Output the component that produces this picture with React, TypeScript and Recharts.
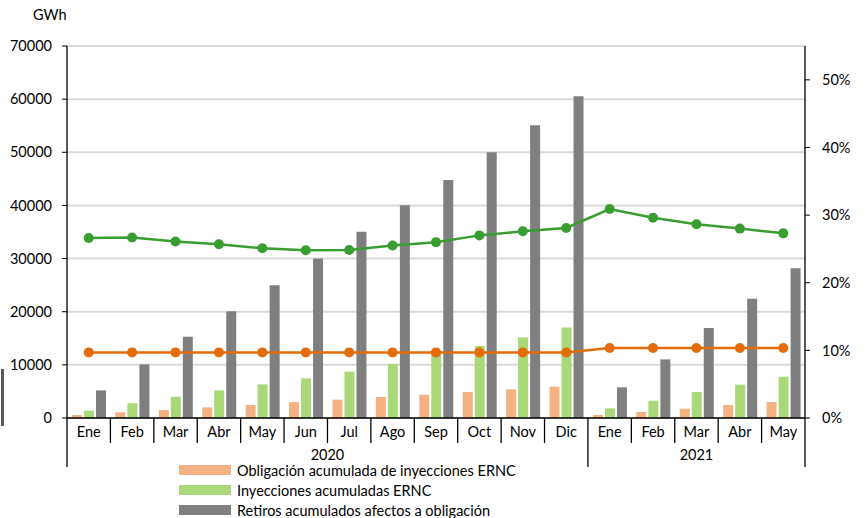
import React from 'react';
import { ComposedChart, Bar, Line, XAxis, YAxis, CartesianGrid } from 'recharts';

// Meses (dos años) y año de cada mes
const months = ['Ene', 'Feb', 'Mar', 'Abr', 'May', 'Jun', 'Jul', 'Ago', 'Sep', 'Oct', 'Nov', 'Dic', 'Ene', 'Feb', 'Mar', 'Abr', 'May'];
const years = ['2020', '2020', '2020', '2020', '2020', '2020', '2020', '2020', '2020', '2020', '2020', '2020', '2021', '2021', '2021', '2021', '2021'];

// GWh acumulados
const obligacion = [560, 1070, 1500, 2000, 2440, 3000, 3450, 3950, 4390, 4890, 5390, 5890, 560, 1130, 1750, 2440, 3000];
const inyecciones = [1380, 2760, 4010, 5200, 6330, 7460, 8710, 10150, 12300, 13540, 15170, 17050, 1820, 3260, 4890, 6270, 7770];
const retiros = [5200, 10100, 15290, 20100, 25000, 30000, 35030, 40040, 44800, 50000, 55100, 60540, 5770, 11030, 16920, 22430, 28200];

// % sobre retiros (eje derecho)
const pctInyecciones = [26.6, 26.7, 26.1, 25.7, 25.1, 24.8, 24.85, 25.5, 26.0, 27.0, 27.6, 28.1, 30.9, 29.6, 28.65, 28.0, 27.3];
const pctObligacion = [9.7, 9.7, 9.7, 9.7, 9.7, 9.7, 9.7, 9.7, 9.7, 9.7, 9.7, 9.7, 10.35, 10.35, 10.35, 10.35, 10.35];

const leftTicks = [0, 10000, 20000, 30000, 40000, 50000, 60000, 70000];
const rightTicks = [0, 10, 20, 30, 40, 50];

const legendItems = [
  { label: 'Obligación acumulada de inyecciones ERNC', color: '#F4B183' },
  { label: 'Inyecciones acumuladas ERNC', color: '#A9D879' },
  { label: 'Retiros acumulados afectos a obligación', color: '#7F7F7F' },
];

const data = months.map((m, i) => ({
  mes: m,
  anio: years[i],
  obligacion: obligacion[i],
  inyecciones: inyecciones[i],
  retiros: retiros[i],
  pctInyecciones: pctInyecciones[i],
  pctObligacion: pctObligacion[i],
}));

const W = 867;
const H = 518;
const PLOT_LEFT = 67;
const PLOT_RIGHT = 805;
const PLOT_TOP = 46;
const PLOT_BOTTOM = 418;
const BAND = (PLOT_RIGHT - PLOT_LEFT) / months.length;
const FONT = 'Lato, "Open Sans", sans-serif';
const FS = 14.5;

// grupos por año para centrar la etiqueta del año
const yearGroups = Array.from(new Set(years)).map((y) => ({
  year: y,
  first: years.indexOf(y),
  last: years.lastIndexOf(y),
}));

const MonthTick = (props: any) => {
  const { x, payload } = props;
  const i: number = props.index ?? payload.index;
  const left = x - BAND / 2;
  const right = x + BAND / 2;
  const yearStart = i === 0 || years[i] !== years[i - 1];
  const isLast = i === months.length - 1;
  const group = yearGroups.find((g) => Math.floor((g.first + g.last) / 2) === i);

  return (
    <g>
      <line x1={left} x2={left} y1={PLOT_BOTTOM} y2={yearStart ? 467 : 443} stroke="#000" strokeWidth={1.3} />
      {isLast && <line x1={right} x2={right} y1={PLOT_BOTTOM} y2={467} stroke="#000" strokeWidth={1.3} />}
      <text x={x} y={PLOT_BOTTOM + 19} textAnchor="middle" fontSize={FS} fontFamily={FONT} fill="#000">
        {payload.value}
      </text>
      {group && (
        <text
          x={x + ((group.first + group.last) / 2 - i) * BAND}
          y={PLOT_BOTTOM + 42}
          textAnchor="middle"
          fontSize={FS}
          fontFamily={FONT}
          fill="#000"
        >
          {group.year}
        </text>
      )}
    </g>
  );
};

const App = () => {
  return (
    <div style={{ position: 'absolute', left: 0, top: 0, width: W, height: H, background: '#fff' }}>
      <div style={{ position: 'absolute', left: 33, top: 6, fontFamily: FONT, fontSize: FS, color: '#000' }}>GWh</div>
      <div style={{ position: 'absolute', left: 1, top: 369, width: 3, height: 57, background: '#595959' }} />

      <ComposedChart
        width={W}
        height={H}
        data={data}
        margin={{ top: PLOT_TOP, right: 0, bottom: 50, left: 0 }}
        barSize={10}
        barGap={2}
      >
        <CartesianGrid yAxisId="left" vertical={false} stroke="#D9D9D9" strokeWidth={2} />
        <XAxis
          dataKey="mes"
          interval={0}
          tickLine={false}
          axisLine={{ stroke: '#000', strokeWidth: 1.3 }}
          tick={<MonthTick />}
          height={50}
        />
        <YAxis
          yAxisId="left"
          width={PLOT_LEFT}
          domain={[0, 70000]}
          ticks={leftTicks}
          tickSize={5}
          tickMargin={10}
          axisLine={{ stroke: '#000', strokeWidth: 1.3 }}
          tickLine={{ stroke: '#000' }}
          tick={{ fill: '#000', fontSize: FS, fontFamily: FONT }}
        />
        <YAxis
          yAxisId="right"
          orientation="right"
          width={W - PLOT_RIGHT}
          domain={[0, 55]}
          ticks={rightTicks}
          tickFormatter={(v) => `${v}%`}
          tickSize={5}
          tickMargin={12}
          axisLine={{ stroke: '#000', strokeWidth: 1.3 }}
          tickLine={{ stroke: '#000' }}
          tick={{ fill: '#000', fontSize: FS, fontFamily: FONT, textAnchor: 'start' }}
        />
        <Bar yAxisId="left" dataKey="obligacion" fill="#F4B183" isAnimationActive={false} />
        <Bar yAxisId="left" dataKey="inyecciones" fill="#A9D879" isAnimationActive={false} />
        <Bar yAxisId="left" dataKey="retiros" fill="#7F7F7F" isAnimationActive={false} />
        <Line
          yAxisId="right"
          dataKey="pctInyecciones"
          stroke="#3A9D32"
          strokeWidth={2.5}
          dot={{ r: 5, fill: '#3A9D32', stroke: '#3A9D32', strokeWidth: 0 }}
          isAnimationActive={false}
        />
        <Line
          yAxisId="right"
          dataKey="pctObligacion"
          stroke="#E46C0A"
          strokeWidth={2.5}
          dot={{ r: 5, fill: '#E46C0A', stroke: '#E46C0A', strokeWidth: 0 }}
          isAnimationActive={false}
        />
      </ComposedChart>

      <div style={{ position: 'absolute', left: 179, top: 460, fontFamily: FONT, fontSize: FS, color: '#000' }}>
        {legendItems.map((it) => (
          <div key={it.label} style={{ display: 'flex', alignItems: 'center', height: 20 }}>
            <span style={{ display: 'inline-block', width: 52, height: 10, background: it.color, marginRight: 6 }} />
            <span>{it.label}</span>
          </div>
        ))}
      </div>
    </div>
  );
};

export default App;
